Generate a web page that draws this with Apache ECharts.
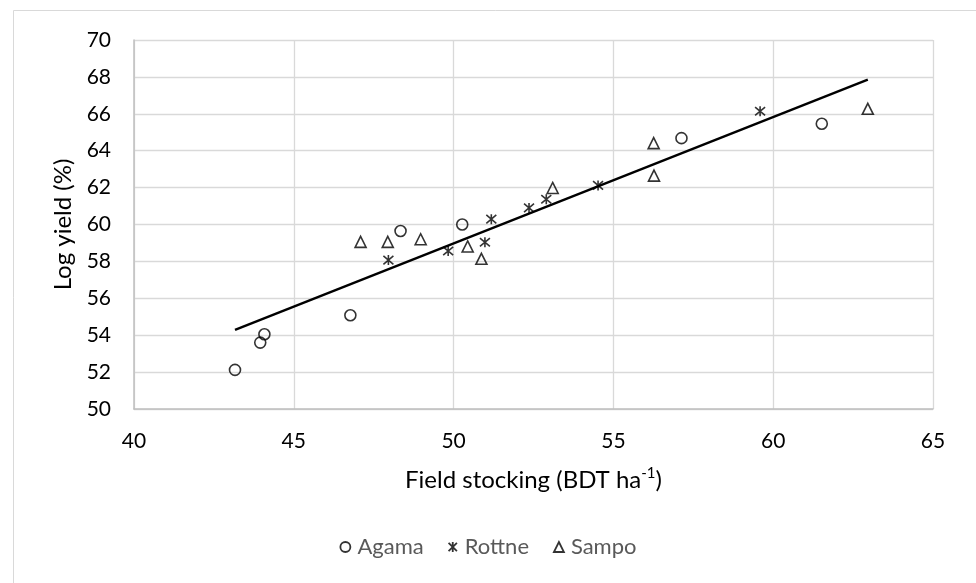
<!DOCTYPE html>
<html>
<head>
<meta charset="utf-8">
<script src="https://cdn.jsdelivr.net/npm/echarts@6/dist/echarts.min.js"></script>
<style>html,body{margin:0;padding:0;background:#fff}#c{width:976px;height:583px}</style>
</head>
<body>
<div id="c"></div>
<script>
// Data
var agamaX = [43.16, 43.95, 44.08, 46.77, 48.34, 50.27, 57.13, 61.52];
var agamaY = [52.12, 53.60, 54.05, 55.08, 59.65, 60.00, 64.68, 65.46];
var rottneX = [47.96, 49.83, 50.98, 51.18, 52.36, 52.90, 54.52, 59.59];
var rottneY = [58.07, 58.56, 59.04, 60.29, 60.90, 61.37, 62.12, 66.14];
var sampoX = [47.09, 47.94, 48.97, 50.44, 50.87, 53.10, 56.26, 56.27, 62.96];
var sampoY = [59.06, 59.06, 59.20, 58.81, 58.14, 61.98, 64.41, 62.65, 66.27];
var trendX = [43.16, 62.96];
var trendY = [54.29, 67.85];
var seriesNames = ['Agama', 'Rottne', 'Sampo'];

function pairs(xs, ys) { return xs.map(function (x, i) { return [x, ys[i]]; }); }

var FONT = 'Lato';
var starPath = 'path://M0,0 L10,10 M10,0 L0,10 M5,-1 L5,11';
var markerStyle = { color: 'transparent', borderColor: '#000', borderWidth: 1.6 };
var legendStyle = { color: 'transparent', borderColor: '#000', borderWidth: 1.8 };

var chart = echarts.init(document.getElementById('c'), null, { renderer: 'canvas' });
chart.setOption({
  animation: false,
  backgroundColor: '#fff',
  textStyle: { fontFamily: FONT },
  graphic: [{
    type: 'rect', silent: true, z: -10,
    shape: { x: 13.5, y: 10.5, width: 990, height: 600 },
    style: { fill: 'none', stroke: '#d9d9d9', lineWidth: 1 }
  }],
  grid: { left: 134, right: 43, top: 40, bottom: 174, containLabel: false },
  xAxis: {
    type: 'value', min: 40, max: 65, interval: 5,
    name: '{n|Field stocking (BDT ha}{s|-1}{n|)}',
    nameLocation: 'middle', nameGap: 57,
    nameTextStyle: {
      rich: {
        n: { fontFamily: FONT, fontSize: 24, color: '#000', lineHeight: 28 },
        s: { fontFamily: FONT, fontSize: 15, color: '#000', lineHeight: 15, verticalAlign: 'top' }
      }
    },
    axisLine: { show: true, lineStyle: { color: '#bfbfbf', width: 1.5 } },
    axisTick: { show: false },
    splitLine: { show: true, lineStyle: { color: '#d9d9d9', width: 1.3 } },
    axisLabel: { color: '#000', fontSize: 21, fontFamily: FONT, margin: 22 }
  },
  yAxis: {
    type: 'value', min: 50, max: 70, interval: 2,
    name: 'Log yield (%)', nameLocation: 'middle', nameGap: 56, nameRotate: 90,
    nameTextStyle: { color: '#000', fontSize: 24, fontFamily: FONT },
    axisLine: { show: true, lineStyle: { color: '#bfbfbf', width: 1.5 } },
    axisTick: { show: false },
    splitLine: { show: true, lineStyle: { color: '#d9d9d9', width: 1.3 } },
    axisLabel: { color: '#000', fontSize: 21, fontFamily: FONT, margin: 23 }
  },
  legend: {
    bottom: 20, left: 'center', itemGap: 24, itemWidth: 10, itemHeight: 10,
    textStyle: { color: '#595959', fontSize: 22, fontFamily: FONT, padding: [0, 0, 0, 2] },
    data: [
      { name: seriesNames[0], icon: 'circle', itemStyle: legendStyle },
      { name: seriesNames[1], icon: starPath, itemStyle: legendStyle },
      { name: seriesNames[2], icon: 'triangle', itemStyle: legendStyle }
    ]
  },
  series: [
    {
      name: 'Trend', type: 'line', data: pairs(trendX, trendY), symbol: 'none',
      lineStyle: { color: '#000', width: 2.4 }, z: 3, silent: true
    },
    {
      name: seriesNames[0], type: 'scatter', data: pairs(agamaX, agamaY),
      symbol: 'circle', symbolSize: 11, itemStyle: markerStyle, z: 4
    },
    {
      name: seriesNames[1], type: 'scatter', data: pairs(rottneX, rottneY),
      symbol: starPath, symbolSize: 10, itemStyle: markerStyle, z: 4
    },
    {
      name: seriesNames[2], type: 'scatter', data: pairs(sampoX, sampoY),
      symbol: 'triangle', symbolSize: 11, itemStyle: markerStyle, z: 4
    }
  ]
});
</script>
</body>
</html>
